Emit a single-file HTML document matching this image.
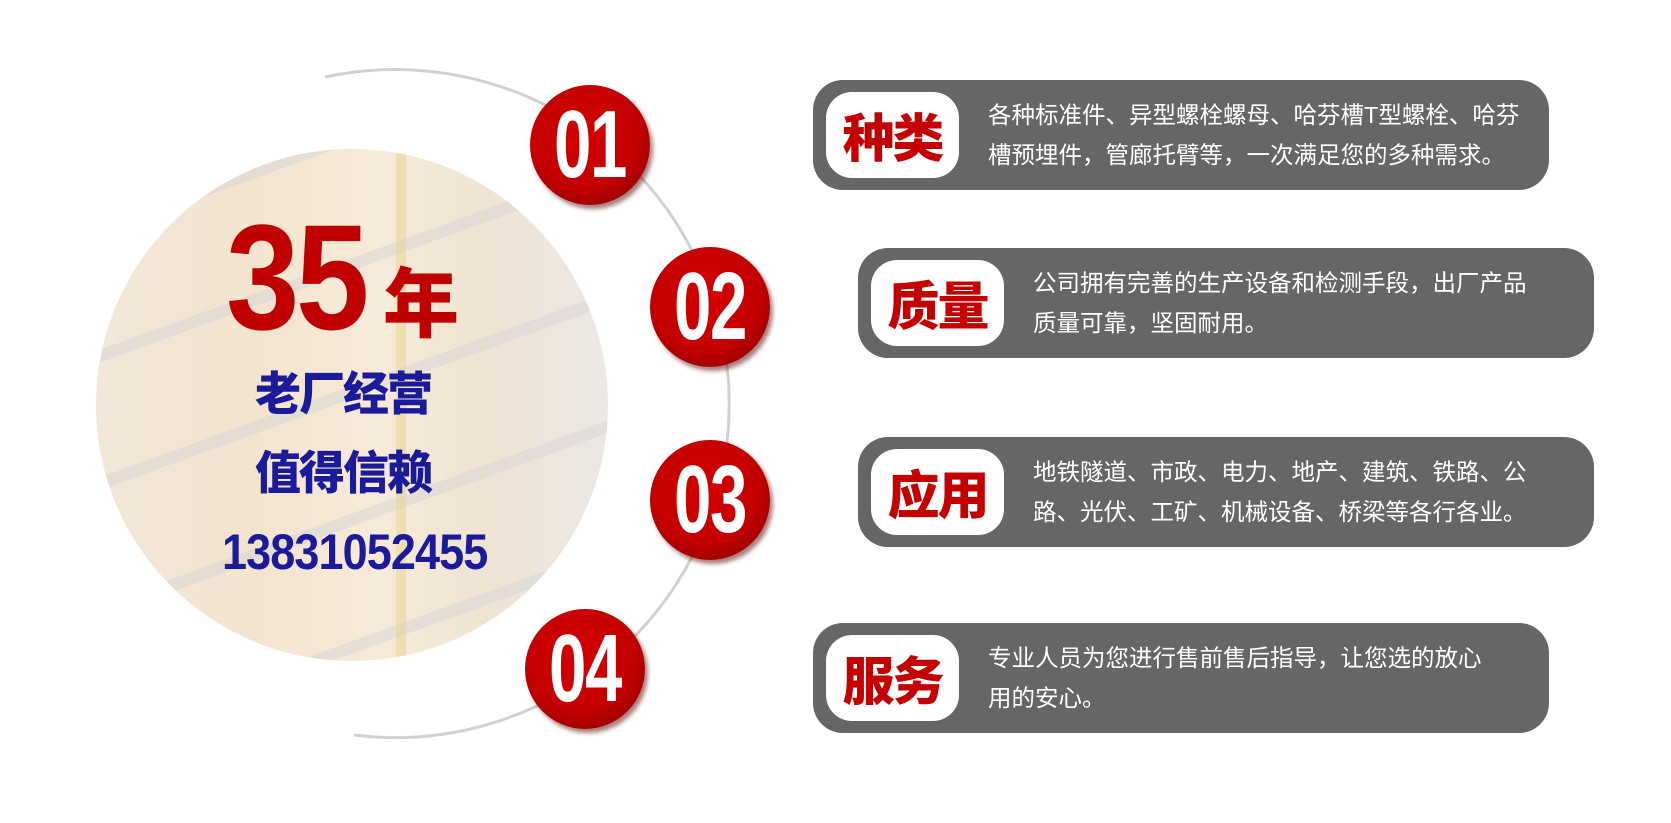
<!DOCTYPE html>
<html><head><meta charset="utf-8"><style>
*{margin:0;padding:0;box-sizing:border-box}
body{width:1671px;height:823px;background:#fff;position:relative;overflow:hidden;font-family:"Liberation Sans","Noto Sans CJK SC",sans-serif}
.abs{position:absolute}
.circle{left:96px;top:149px;width:512px;height:512px;border-radius:50%;overflow:hidden;
background:
repeating-linear-gradient(160deg,rgba(255,255,255,0) 0 70px,rgba(200,205,215,.35) 70px 82px,rgba(255,255,255,0) 82px 120px),
linear-gradient(90deg,#f1e6d8 0%,#f3e4cf 30%,#f6ead8 55%,#efe4d2 75%,#ebe7e6 100%);}
.circle .shade{position:absolute;left:0;top:0;width:100%;height:100%;
background:repeating-linear-gradient(90deg,rgba(255,255,255,0) 0 300px,rgba(230,210,140,.5) 300px 310px,rgba(255,255,255,0) 310px 330px);}
.badge{width:120px;height:120px;border-radius:50%;
background:radial-gradient(circle at 45% 40%,#d40000 0%,#c40000 55%,#9a0000 80%,#6a0000 100%);
box-shadow:3px 4px 4px rgba(80,0,0,.5);}
.badge span{position:absolute;left:0;top:0;width:120px;height:120px;color:#fff;font-weight:bold;font-size:96px;
text-align:center;line-height:120px;letter-spacing:-2px;transform:scaleX(.7)}
.box{height:110px;width:736px;background:#666;border-radius:30px}
.lab{position:absolute;left:13px;top:12px;width:133px;height:86px;background:#fff;border-radius:26px;
color:#c40000;font-weight:900;font-size:52px;text-align:center;line-height:86px;font-family:"Noto Sans CJK SC",sans-serif;letter-spacing:-2px}
.txt{position:absolute;left:175px;top:15px;color:#fff;font-size:23.5px;line-height:40px;white-space:nowrap;font-family:"Liberation Sans","Noto Sans CJK SC",sans-serif}
</style></head><body>
<svg class="abs" style="left:0;top:0" width="1671" height="823">
<path d="M325 77 A334 334 0 1 1 354 735" fill="none" stroke="#d0d0d0" stroke-width="3"/>
</svg>
<div class="abs circle"><div class="shade"></div></div>
<div class="abs" style="left:226px;top:212px;color:#c00000;font-weight:bold;font-size:150px;line-height:130px;letter-spacing:-4px;transform:scaleX(.88);transform-origin:left top">35</div>
<div class="abs" style="left:383px;top:258px;color:#c00000;font-family:'Noto Sans CJK SC',sans-serif;font-weight:900;font-size:76px;line-height:80px">年</div>
<div class="abs" style="left:255px;top:363px;color:#1a1a9a;font-family:'Noto Sans CJK SC',sans-serif;font-weight:900;font-size:46px;line-height:56px;letter-spacing:-2px">老厂经营</div>
<div class="abs" style="left:255px;top:442px;color:#1a1a9a;font-family:'Noto Sans CJK SC',sans-serif;font-weight:900;font-size:46px;line-height:56px;letter-spacing:-2px">值得信赖</div>
<div class="abs" style="left:222px;top:526px;color:#1a1a9a;font-weight:bold;font-size:50px;line-height:52px;letter-spacing:-1px;transform:scaleX(.9);transform-origin:left top">13831052455</div>

<div class="abs badge" style="left:530px;top:85px"><span>01</span></div>
<div class="abs badge" style="left:650px;top:247px"><span>02</span></div>
<div class="abs badge" style="left:650px;top:440px"><span>03</span></div>
<div class="abs badge" style="left:525px;top:609px"><span>04</span></div>

<div class="abs box" style="left:813px;top:80px"><div class="lab">种类</div><div class="txt">各种标准件、异型螺栓螺母、哈芬槽T型螺栓、哈芬<br>槽预埋件，管廊托臂等，一次满足您的多种需求。</div></div>
<div class="abs box" style="left:858px;top:248px"><div class="lab">质量</div><div class="txt">公司拥有完善的生产设备和检测手段，出厂产品<br>质量可靠，坚固耐用。</div></div>
<div class="abs box" style="left:858px;top:437px"><div class="lab">应用</div><div class="txt">地铁隧道、市政、电力、地产、建筑、铁路、公<br>路、光伏、工矿、机械设备、桥梁等各行各业。</div></div>
<div class="abs box" style="left:813px;top:623px"><div class="lab">服务</div><div class="txt">专业人员为您进行售前售后指导，让您选的放心<br>用的安心。</div></div>
</body></html>
